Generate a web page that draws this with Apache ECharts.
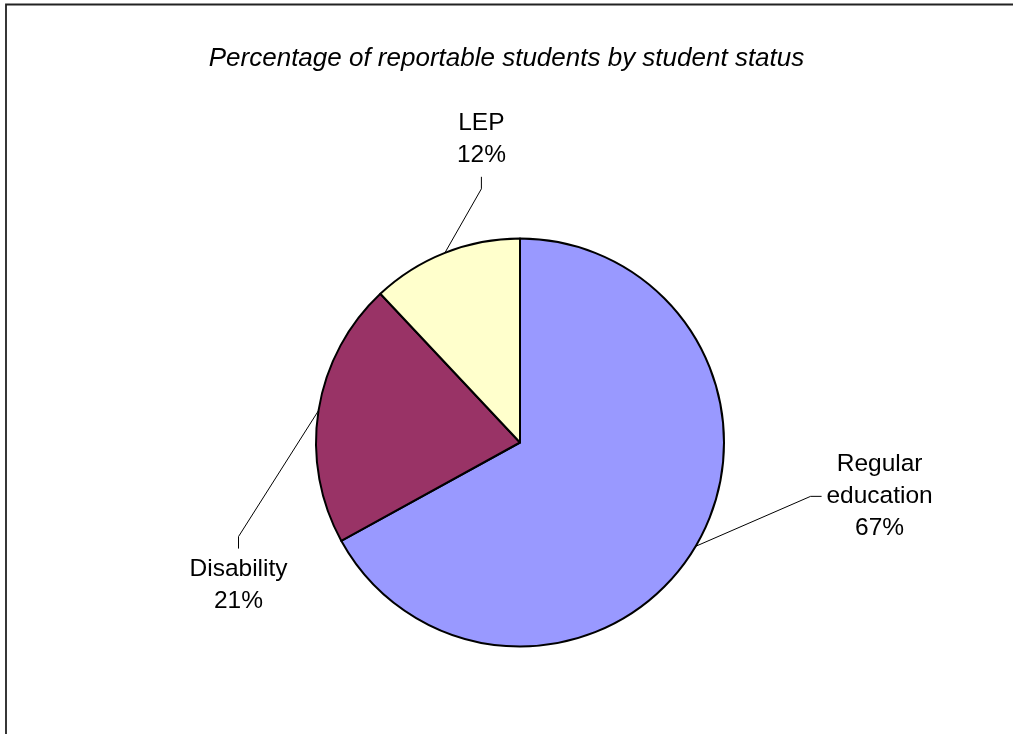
<!DOCTYPE html>
<html>
<head>
<meta charset="utf-8">
<script src="https://cdn.jsdelivr.net/npm/echarts@6/dist/echarts.min.js"></script>
<style>
html,body{margin:0;padding:0;background:#fff;}
#chart{width:1013px;height:734px;}
</style>
</head>
<body>
<div id="chart"></div>
<script>
const titleText = 'Percentage of reportable students by student status';
const categories = ['Regular education', 'Disability', 'LEP'];
const values = [67, 21, 12];
const colors = ['#9999FF', '#993366', '#FFFFCC'];

// leader-line style offsets relative to the slice edge point: [bendDx, bendDy, endDx, endDy, labelDx, labelDy]
const leaderOffsets = [
  [115, -50, 126, -50, 184, -50],
  [-80, 126, -80, 138, -80, 175],
  [36.5, -64, 36.5, -76, 36.5, -114]
];

const chart = echarts.init(document.getElementById('chart'), null, {renderer: 'canvas'});
const FONT = '"Liberation Sans", Arial, sans-serif';

chart.setOption({
  backgroundColor: '#fff',
  animation: false,
  title: {
    text: titleText,
    left: 'center',
    top: 41,
    textStyle: {fontFamily: FONT, fontStyle: 'italic', fontWeight: 'normal', fontSize: 26, color: '#000'}
  },
  graphic: [{
    type: 'polyline',
    shape: {points: [[6, 760], [6, 4.5], [1040, 4.5]]},
    style: {fill: null, stroke: '#222', lineWidth: 1.8},
    silent: true
  }],
  series: [{
    type: 'pie',
    center: [520, 442.5],
    radius: 204,
    startAngle: 90,
    clockwise: true,
    avoidLabelOverlap: false,
    itemStyle: {borderColor: '#000', borderWidth: 2},
    label: {
      show: true,
      position: 'outside',
      fontFamily: FONT,
      fontSize: 24.5,
      lineHeight: 32,
      color: '#000',
      align: 'center',
      formatter: function (p) { return p.name.replace(' ', '\n') + '\n' + p.value + '%'; }
    },
    labelLine: {show: true, length: 20, length2: 10, lineStyle: {color: '#000', width: 1}},
    emphasis: {disabled: true},
    labelLayout: function (p) {
      const pts = p.labelLinePoints;
      if (!pts || !pts[0]) return {};
      const e = pts[0];
      const o = leaderOffsets[p.dataIndex];
      return {
        x: e[0] + o[4],
        y: e[1] + o[5],
        align: 'center',
        verticalAlign: 'middle',
        labelLinePoints: [[e[0], e[1]], [e[0] + o[0], e[1] + o[1]], [e[0] + o[2], e[1] + o[3]]]
      };
    },
    data: categories.map((c, i) => ({name: c, value: values[i], itemStyle: {color: colors[i]}}))
  }]
});
</script>
</body>
</html>
